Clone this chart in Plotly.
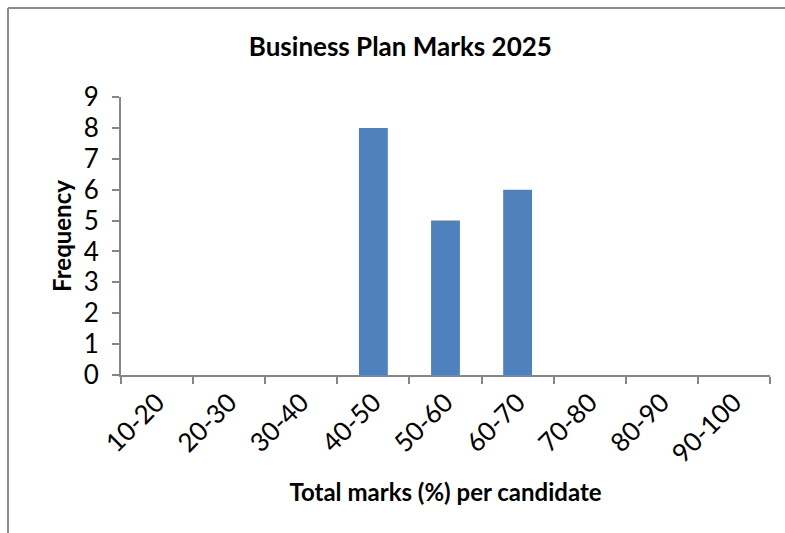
import plotly.graph_objects as go

# Mark bands and number of candidates in each
bands = ["10-20", "20-30", "30-40", "40-50", "50-60", "60-70", "70-80", "80-90", "90-100"]
frequency = [0, 0, 0, 8, 5, 6, 0, 0, 0]
y_ticks = list(range(0, 10))

W, H = 785, 533
L, R, T, B = 121, 15, 97, 158
pw, ph = W - L - R, H - T - B

FONT = "Lato, Open Sans, sans-serif"
AXIS_GREY = "#868686"

fig = go.Figure(
    go.Bar(
        x=bands,
        y=frequency,
        marker=dict(color="#4F81BD", line=dict(color="#4F81BD", width=0)),
        hoverinfo="x+y",
    )
)

# Chart frame: only top and left edges fall inside the page
def px_x(x):
    return (x - L) / pw

def px_y(y):
    return (H - B - y) / ph

frame = dict(color="#8c8c8c", width=2)
fig.add_shape(type="line", xref="paper", yref="paper",
              x0=px_x(8), x1=px_x(W + 5), y0=px_y(8), y1=px_y(8), line=frame)
fig.add_shape(type="line", xref="paper", yref="paper",
              x0=px_x(8), x1=px_x(8), y0=px_y(8), y1=px_y(H + 5), line=frame)

fig.update_layout(
    width=W,
    height=H,
    margin=dict(l=L, r=R, t=T, b=B),
    paper_bgcolor="white",
    plot_bgcolor="white",
    bargap=0.6,
    showlegend=False,
    font=dict(family=FONT, color="black"),
    title=dict(
        text="<b>Business Plan Marks 2025</b>",
        x=0.51,
        xanchor="center",
        y=1 - 47 / H,
        yanchor="middle",
        font=dict(size=26, family=FONT, color="black"),
    ),
    xaxis=dict(
        type="category",
        range=[-0.5, len(bands) - 0.5],
        tickson="boundaries",
        ticks="outside",
        ticklen=7,
        tickwidth=2,
        tickcolor=AXIS_GREY,
        showline=True,
        linecolor=AXIS_GREY,
        linewidth=2,
        showgrid=False,
        tickangle=-45,
        tickfont=dict(size=26, family=FONT, color="black"),
        title=dict(
            text="<b>Total marks (%) per candidate</b>",
            font=dict(size=24, family=FONT, color="black"),
            standoff=16,
        ),
        fixedrange=True,
    ),
    yaxis=dict(
        range=[0, 9],
        tickvals=y_ticks,
        ticks="outside",
        ticklen=7,
        tickwidth=2,
        tickcolor=AXIS_GREY,
        showline=True,
        linecolor=AXIS_GREY,
        linewidth=2,
        showgrid=False,
        zeroline=False,
        ticklabelstandoff=8,
        tickfont=dict(size=26, family=FONT, color="black"),
        title=dict(
            text="<b>Frequency</b>",
            font=dict(size=24, family=FONT, color="black"),
            standoff=5,
        ),
        fixedrange=True,
    ),
)

fig.write_html("out.html")
